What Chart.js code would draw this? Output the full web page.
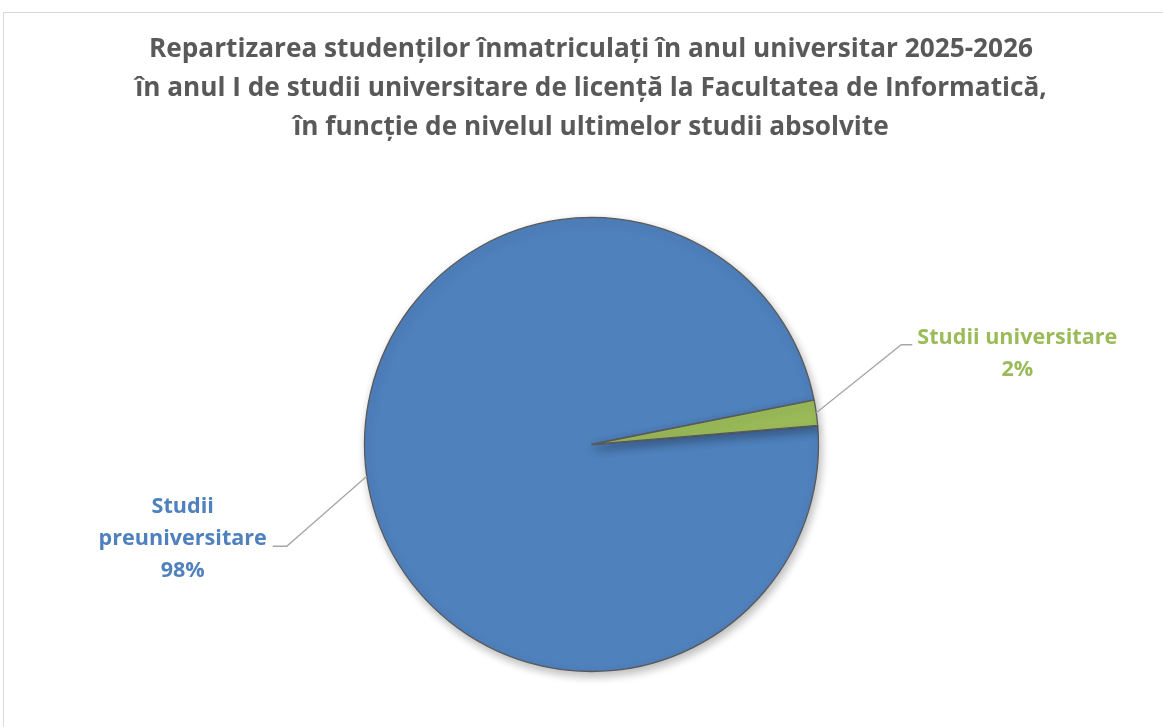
<!DOCTYPE html>
<html lang="ro">
<head>
<meta charset="UTF-8">
<title>Repartizarea studenților</title>
<script src="https://cdn.jsdelivr.net/npm/chart.js"></script>
<style>
    html, body { margin: 0; padding: 0; background: #fff; overflow: hidden; }
    #frame {
        position: absolute; left: 3px; top: 12px;
        width: 1300px; height: 900px;
        border: 1px solid #d9d9d9;
    }
    #wrap { position: absolute; left: 0; top: 0; width: 1163px; height: 727px; }
</style>
</head>
<body>
<div id="frame"></div>
<div id="wrap"><canvas id="grafic" width="1163" height="727"></canvas></div>
<script>
// date
const categorii = ['Studii preuniversitare', 'Studii universitare'];
const etichete = [['Studii', 'preuniversitare'], ['Studii universitare']];
const procente = [98.2, 1.8];
const culori = ['#4F81BD', '#9BBB59'];

const titlu = [
    'Repartizarea studenților înmatriculați în anul universitar 2025-2026',
    'în anul I de studii universitare de licență la Facultatea de Informatică,',
    'în funcție de nivelul ultimelor studii absolvite'
];

const FONT = '"Open Sans", "Noto Sans", sans-serif';

// marime font potrivita pe latime
function potriveste(ctx, text, latime) {
    ctx.font = 'bold 100px ' + FONT;
    return 100 * latime / ctx.measureText(text).width;
}

// pozitia etichetelor fata de punctul de pe arc
const asezare = [
    { dx: -80, dy: 70, h: -14, tx: -104, ty: -39 },
    { dx: 85, dy: -68, h: 11, tx: 116, ty: -7 }
];

const pluginTitlu = {
    id: 'titlu',
    afterDraw(chart) {
        const ctx = chart.ctx;
        ctx.save();
        const m = potriveste(ctx, titlu[1], 912);
        ctx.font = 'bold ' + m + 'px ' + FONT;
        ctx.fillStyle = '#595959';
        ctx.textAlign = 'center';
        ctx.textBaseline = 'middle';
        titlu.forEach((t, i) => ctx.fillText(t, 591, 50 + i * 39));
        ctx.restore();
    }
};

const pluginUmbra = {
    id: 'umbra',
    beforeDatasetsDraw(chart) {
        const ctx = chart.ctx;
        ctx.save();
        ctx.shadowColor = 'rgba(0,0,0,0.28)';
        ctx.shadowBlur = 10;
        ctx.shadowOffsetX = 2;
        ctx.shadowOffsetY = 4;
    },
    afterDatasetsDraw(chart) {
        chart.ctx.restore();
    }
};

const pluginEtichete = {
    id: 'etichete',
    afterDatasetsDraw(chart) {
        const ctx = chart.ctx;
        const meta = chart.getDatasetMeta(0);
        const m = potriveste(ctx, 'Studii universitare', 200);
        meta.data.forEach((arc, i) => {
            const p = arc.getProps(['x', 'y', 'startAngle', 'endAngle', 'outerRadius'], true);
            const mij = (p.startAngle + p.endAngle) / 2;
            const x0 = p.x + Math.cos(mij) * p.outerRadius;
            const y0 = p.y + Math.sin(mij) * p.outerRadius;
            const a = asezare[i];
            const x1 = x0 + a.dx, y1 = y0 + a.dy;

            ctx.save();
            ctx.strokeStyle = '#a6a6a6';
            ctx.lineWidth = 1.3;
            ctx.beginPath();
            ctx.moveTo(x0, y0);
            ctx.lineTo(x1, y1);
            ctx.lineTo(x1 + a.h, y1);
            ctx.stroke();

            const linii = etichete[i].concat([Math.round(procente[i]) + '%']);
            ctx.font = 'bold ' + m + 'px ' + FONT;
            ctx.fillStyle = culori[i];
            ctx.textAlign = 'center';
            ctx.textBaseline = 'middle';
            linii.forEach((t, k) => ctx.fillText(t, x1 + a.tx, y1 + a.ty + k * 32));
            ctx.restore();
        });
    }
};

new Chart(document.getElementById('grafic'), {
    type: 'pie',
    data: {
        labels: categorii,
        datasets: [{
            data: procente,
            backgroundColor: culori,
            borderColor: '#595959',
            borderWidth: 1.3
        }]
    },
    options: {
        responsive: false,
        animation: false,
        events: [],
        rotation: 85.2,
        radius: 227,
        layout: { padding: { top: 217, bottom: 55, left: 20, right: 0 } },
        plugins: {
            legend: { display: false },
            title: { display: false },
            tooltip: { enabled: false }
        }
    },
    plugins: [pluginUmbra, pluginEtichete, pluginTitlu]
});
</script>
</body>
</html>
